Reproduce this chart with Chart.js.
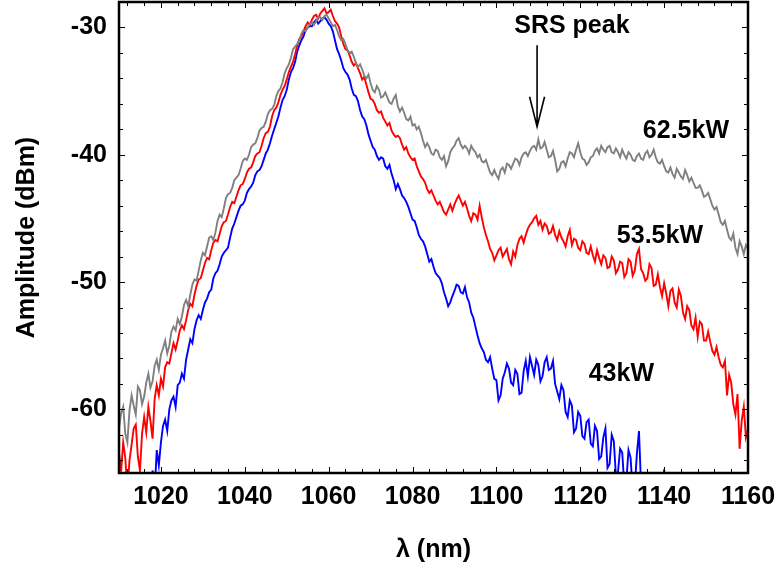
<!DOCTYPE html>
<html>
<head>
<meta charset="utf-8">
<script src="https://cdn.jsdelivr.net/npm/chart.js@4.4.1/dist/chart.umd.min.js"></script>
<style>
  html, body { margin: 0; padding: 0; background: #fff; }
  #wrap { width: 781px; height: 571px; }
</style>
</head>
<body>
<div id="wrap"><canvas id="spectrum" width="781" height="571"></canvas></div>
<script>
// wavelength grid (nm), one reading every 0.5 nm
const wavelengths = [
  1010, 1010.5, 1011, 1011.5, 1012, 1012.5, 1013, 1013.5, 1014, 1014.5,
  1015, 1015.5, 1016, 1016.5, 1017, 1017.5, 1018, 1018.5, 1019, 1019.5,
  1020, 1020.5, 1021, 1021.5, 1022, 1022.5, 1023, 1023.5, 1024, 1024.5,
  1025, 1025.5, 1026, 1026.5, 1027, 1027.5, 1028, 1028.5, 1029, 1029.5,
  1030, 1030.5, 1031, 1031.5, 1032, 1032.5, 1033, 1033.5, 1034, 1034.5,
  1035, 1035.5, 1036, 1036.5, 1037, 1037.5, 1038, 1038.5, 1039, 1039.5,
  1040, 1040.5, 1041, 1041.5, 1042, 1042.5, 1043, 1043.5, 1044, 1044.5,
  1045, 1045.5, 1046, 1046.5, 1047, 1047.5, 1048, 1048.5, 1049, 1049.5,
  1050, 1050.5, 1051, 1051.5, 1052, 1052.5, 1053, 1053.5, 1054, 1054.5,
  1055, 1055.5, 1056, 1056.5, 1057, 1057.5, 1058, 1058.5, 1059, 1059.5,
  1060, 1060.5, 1061, 1061.5, 1062, 1062.5, 1063, 1063.5, 1064, 1064.5,
  1065, 1065.5, 1066, 1066.5, 1067, 1067.5, 1068, 1068.5, 1069, 1069.5,
  1070, 1070.5, 1071, 1071.5, 1072, 1072.5, 1073, 1073.5, 1074, 1074.5,
  1075, 1075.5, 1076, 1076.5, 1077, 1077.5, 1078, 1078.5, 1079, 1079.5,
  1080, 1080.5, 1081, 1081.5, 1082, 1082.5, 1083, 1083.5, 1084, 1084.5,
  1085, 1085.5, 1086, 1086.5, 1087, 1087.5, 1088, 1088.5, 1089, 1089.5,
  1090, 1090.5, 1091, 1091.5, 1092, 1092.5, 1093, 1093.5, 1094, 1094.5,
  1095, 1095.5, 1096, 1096.5, 1097, 1097.5, 1098, 1098.5, 1099, 1099.5,
  1100, 1100.5, 1101, 1101.5, 1102, 1102.5, 1103, 1103.5, 1104, 1104.5,
  1105, 1105.5, 1106, 1106.5, 1107, 1107.5, 1108, 1108.5, 1109, 1109.5,
  1110, 1110.5, 1111, 1111.5, 1112, 1112.5, 1113, 1113.5, 1114, 1114.5,
  1115, 1115.5, 1116, 1116.5, 1117, 1117.5, 1118, 1118.5, 1119, 1119.5,
  1120, 1120.5, 1121, 1121.5, 1122, 1122.5, 1123, 1123.5, 1124, 1124.5,
  1125, 1125.5, 1126, 1126.5, 1127, 1127.5, 1128, 1128.5, 1129, 1129.5,
  1130, 1130.5, 1131, 1131.5, 1132, 1132.5, 1133, 1133.5, 1134, 1134.5,
  1135, 1135.5, 1136, 1136.5, 1137, 1137.5, 1138, 1138.5, 1139, 1139.5,
  1140, 1140.5, 1141, 1141.5, 1142, 1142.5, 1143, 1143.5, 1144, 1144.5,
  1145, 1145.5, 1146, 1146.5, 1147, 1147.5, 1148, 1148.5, 1149, 1149.5,
  1150, 1150.5, 1151, 1151.5, 1152, 1152.5, 1153, 1153.5, 1154, 1154.5,
  1155, 1155.5, 1156, 1156.5, 1157, 1157.5, 1158, 1158.5, 1159, 1159.5,
  1160
];

// amplitude (dBm) at 62.5 kW
const amp625 = [
  -61.5, -60.3, -59.8, -61.9, -62.6, -60.1, -58.9, -59.7, -60.4, -58.2,
  -58.5, -59.6, -59.0, -57.9, -57.2, -58.3, -57.8, -56.6, -56.1, -56.9,
  -55.7, -55.2, -54.6, -55.6, -55.0, -53.9, -53.5, -53.8, -52.9, -53.3,
  -52.7, -51.8, -51.4, -51.9, -51.0, -50.2, -49.8, -49.9, -49.1, -48.3,
  -47.7, -47.9, -47.2, -46.5, -46.4, -46.7, -46.1, -45.2, -44.7, -44.9,
  -44.2, -43.4, -43.1, -43.0, -42.6, -42.0, -41.8, -41.6, -41.1, -40.5,
  -40.3, -40.4, -40.0, -39.4, -39.2, -39.1, -38.7, -38.1, -37.9, -37.8,
  -37.4, -36.8, -36.5, -36.4, -36.1, -35.4, -35.0, -34.8, -34.3, -33.6,
  -33.2, -32.9, -32.4, -31.7, -31.5, -31.3, -31.0, -30.5, -30.2, -30.3,
  -30.0, -29.7, -29.6, -29.8, -29.5, -29.2, -29.2, -29.4, -29.1, -29.0,
  -29.3, -29.6, -29.9, -29.8, -30.2, -30.7, -31.0, -30.9, -31.3, -31.8,
  -32.0, -31.9, -32.3, -32.8, -33.1, -32.9, -33.3, -33.8, -34.0, -33.7,
  -34.4, -34.9, -35.1, -34.6, -34.9, -35.5, -35.4, -35.1, -35.5, -35.9,
  -36.0, -35.6, -35.3, -36.2, -36.6, -36.3, -36.7, -37.2, -37.3, -37.0,
  -37.7, -37.6, -38.0, -37.8, -38.3, -38.9, -39.4, -39.1, -39.4, -39.9,
  -40.0, -39.6, -39.7, -40.2, -40.4, -40.1, -40.9, -40.5, -39.8, -39.5,
  -39.3, -38.9, -38.7, -39.2, -39.5, -39.3, -39.5, -39.9, -39.3, -39.6,
  -39.8, -40.2, -40.0, -40.5, -40.6, -40.4, -40.9, -41.4, -41.6, -41.2,
  -41.6, -41.9, -41.2, -41.0, -41.4, -40.7, -40.8, -41.1, -40.7, -40.3,
  -40.4, -40.8, -40.2, -39.9, -39.8, -40.1, -39.7, -39.4, -39.3, -39.6,
  -38.8, -39.5, -39.4, -39.0, -39.6, -40.2, -40.1, -39.7, -40.4, -41.3,
  -41.1, -40.6, -40.5, -40.9, -40.3, -39.8, -39.9, -40.2, -39.6, -39.1,
  -39.8, -40.3, -40.4, -40.8, -40.6, -40.2, -40.1, -39.7, -39.5, -39.9,
  -39.3, -39.6, -39.8, -39.4, -39.3, -39.8, -39.9, -39.5, -39.8, -40.2,
  -39.6, -40.0, -40.3, -39.8, -40.0, -40.4, -40.5, -40.1, -39.9, -40.3,
  -40.4, -39.9, -39.7, -40.2, -40.0, -39.6, -40.2, -40.6, -40.7, -40.4,
  -40.9, -41.3, -41.4, -41.0, -41.5, -41.8, -41.1, -41.4, -41.7, -41.9,
  -41.2, -41.6, -42.1, -41.8, -42.2, -42.6, -42.6, -42.4, -42.8, -43.3,
  -43.2, -43.0, -43.5, -44.0, -44.3, -44.1, -44.7, -45.3, -45.5, -45.2,
  -45.9, -46.5, -46.7, -46.2, -47.3, -47.8, -46.8, -47.2, -47.8, -47.1,
  -47.4
];

// amplitude (dBm) at 53.5 kW
const amp535 = [
  -63.4, -64.9, -62.6, -63.8, -66.5, -64.0, -62.8, -61.5, -61.2, -63.7,
  -64.8, -61.9, -60.6, -61.8, -59.8, -60.9, -62.3, -59.2, -58.1, -58.9,
  -57.6, -58.2, -56.7, -56.3, -56.4, -55.6, -54.8, -55.3, -54.6, -53.8,
  -53.4, -53.7, -53.0, -52.2, -51.7, -51.9, -51.0, -50.3, -49.8, -49.7,
  -49.1, -48.5, -48.1, -48.2, -47.5, -46.9, -46.7, -46.8, -46.2, -45.6,
  -45.3, -45.2, -44.7, -44.1, -43.7, -43.8, -43.3, -42.8, -42.4, -42.3,
  -41.9, -41.4, -41.1, -41.0, -40.6, -40.1, -39.9, -39.8, -39.3, -38.7,
  -38.3, -38.2, -37.8, -37.0, -36.5, -36.3, -35.9, -35.3, -34.9, -34.6,
  -34.1, -33.5, -33.1, -32.7, -32.1, -31.4, -30.9, -30.7, -30.3, -29.9,
  -29.6, -29.8, -29.4, -29.1, -29.0, -29.3, -28.9, -28.7, -28.5, -28.9,
  -28.8, -28.6, -29.1, -29.5, -29.7, -30.0, -30.7, -31.3, -31.7, -31.8,
  -32.2, -32.7, -33.0, -32.8, -33.2, -33.6, -34.1, -33.9, -34.5, -35.1,
  -35.6, -35.7, -36.0, -36.5, -36.7, -36.6, -37.1, -37.4, -37.7, -37.5,
  -38.1, -38.4, -38.6, -38.5, -38.7, -39.2, -39.6, -39.4, -39.9, -40.2,
  -40.4, -40.3, -40.9, -41.3, -41.7, -41.9, -42.2, -42.7, -43.0, -42.8,
  -43.2, -43.6, -43.9, -43.7, -44.1, -44.5, -44.7, -44.3, -43.9, -44.4,
  -43.9, -43.5, -43.2, -43.6, -44.0, -43.7, -44.2, -44.8, -45.2, -44.6,
  -44.7, -45.1, -44.0, -44.9, -45.7, -46.3, -46.8, -47.4, -47.7, -48.3,
  -47.9, -47.5, -47.3, -48.0, -47.7, -47.4, -48.2, -48.6, -47.6, -48.0,
  -47.1, -46.6, -46.4, -46.9, -46.3, -45.8, -45.5, -45.3, -45.0, -44.8,
  -45.5, -45.2, -45.9, -45.4, -45.6, -46.2, -46.1, -45.6, -46.3, -46.7,
  -46.0, -46.5, -46.8, -47.2, -46.4, -45.9, -47.1, -46.6, -46.7, -47.3,
  -47.5, -46.8, -47.0, -47.7, -47.8, -47.2, -47.9, -48.4, -47.5, -48.1,
  -48.6, -47.9, -48.1, -48.9, -48.8, -48.0, -48.3, -49.3, -49.0, -48.4,
  -48.5, -49.6, -49.3, -48.2, -48.4, -49.5, -49.1, -47.8, -47.4, -49.0,
  -49.3, -49.9, -49.7, -48.6, -48.9, -50.3, -50.2, -49.4, -50.4, -51.1,
  -50.1, -50.9, -51.9, -50.7, -50.5, -51.6, -52.0, -50.6, -51.1, -52.4,
  -52.9, -51.9, -52.2, -53.4, -53.7, -52.8, -54.3, -53.1, -53.3, -54.6,
  -54.6, -53.9, -54.7, -55.4, -55.7, -55.1, -55.9, -56.5, -56.7, -56.2,
  -58.9, -57.3, -57.9, -59.6, -60.4, -58.8, -63.1, -60.9, -59.8, -62.2,
  -61.6
];

// amplitude (dBm) at 43 kW; readings under -65 fall off the plot
const amp43 = [
  -68.0, -68.0, -68.0, -68.0, -68.0, -68.0, -68.0, -68.0, -68.0, -68.0,
  -68.0, -68.0, -68.0, -68.0, -68.0, -68.0, -64.8, -66.5, -63.2, -64.4,
  -62.6, -61.3, -60.8, -61.7, -60.0, -59.3, -59.0, -59.8, -58.1, -57.9,
  -57.2, -57.6, -56.1, -55.3, -54.5, -54.8, -53.7, -53.0, -52.6, -52.9,
  -52.2, -51.6, -51.3, -50.8, -50.6, -49.7, -49.3, -49.1, -48.6, -48.0,
  -47.7, -47.5, -47.3, -46.5, -45.8, -45.4, -44.9, -44.4, -44.0, -43.9,
  -43.6, -43.0, -42.7, -42.5, -42.2, -41.6, -41.3, -41.2, -40.9, -40.4,
  -39.9, -39.6, -39.1, -38.5, -38.0, -37.5, -37.0, -36.3, -35.7, -35.4,
  -34.9, -34.1, -33.5, -33.2, -32.7, -31.9, -31.4, -31.0, -30.7, -30.2,
  -30.0, -29.9, -29.9, -29.6, -29.4, -29.7, -29.5, -29.3, -29.2, -29.4,
  -29.7, -29.9, -30.3, -31.0, -31.7, -32.1, -32.6, -33.2, -33.5, -33.7,
  -34.1, -34.8, -35.3, -35.4, -35.8, -36.5, -37.0, -37.2, -37.7, -38.4,
  -38.9, -39.4, -39.6, -40.1, -40.4, -40.2, -40.3, -40.9, -41.1, -40.8,
  -41.5, -42.0, -42.7, -42.3, -42.7, -43.2, -43.4, -43.7, -44.1, -44.6,
  -45.1, -45.2, -45.7, -46.3, -46.6, -46.8, -47.2, -47.8, -48.4, -48.2,
  -48.8, -49.3, -49.5, -49.7, -50.1, -50.8, -51.3, -51.9, -51.6, -51.1,
  -50.7, -50.2, -50.3, -50.8, -50.9, -50.4, -51.2, -51.6, -52.4, -52.8,
  -53.5, -54.2, -54.8, -55.2, -55.5, -56.1, -56.3, -55.9, -56.8, -57.6,
  -57.7, -59.3, -58.9, -57.6, -57.1, -56.4, -56.8, -57.9, -58.1, -56.9,
  -57.2, -58.8, -58.7, -57.0, -56.2, -57.4, -55.9, -56.6, -57.3, -56.1,
  -56.5, -57.8, -57.4, -56.3, -55.9, -56.9, -56.8, -56.2, -58.0, -58.6,
  -59.2, -58.1, -58.5, -60.2, -60.6, -59.3, -59.7, -61.8, -61.5, -60.2,
  -60.5, -62.1, -62.3, -61.0, -60.8, -62.7, -62.9, -61.3, -61.7, -63.9,
  -63.7, -62.2, -61.5, -64.6, -64.3, -62.0, -62.5, -65.2, -64.9, -63.1,
  -63.4, -65.9, -65.6, -63.2, -63.8, -66.4, -66.1, -63.5, -61.7, -66.0,
  -66.2, -68.0, -68.0, -68.0, -68.0, -68.0, -68.0, -68.0, -68.0, -68.0,
  -64.7, -68.0, -68.0, -68.0, -68.0, -68.0, -68.0, -68.0, -68.0, -68.0,
  -68.0, -68.0, -68.0, -68.0, -68.0, -68.0, -68.0, -68.0, -68.0, -68.0,
  -68.0, -68.0, -68.0, -68.0, -68.0, -68.0, -68.0, -68.0, -68.0, -68.0,
  -68.0, -68.0, -68.0, -68.0, -68.0, -68.0, -68.0, -68.0, -68.0, -68.0,
  -68.0
];

const seriesLabels = ["62.5kW", "53.5kW", "43kW"];
const seriesColors = ["#808080", "#ff0000", "#0000ff"];
const xTickValues = [1020, 1040, 1060, 1080, 1100, 1120, 1140, 1160];
const yTickValues = [-60, -50, -40, -30];

const boldFont = "'Liberation Sans', Arial, sans-serif";

function toPoints(values) {
  return wavelengths.map((w, i) => ({ x: w, y: values[i] }));
}

// the layout must not push the plot box in for overhanging labels
function pinBox(size, key) {
  return s => {
    s[key] = size;
    s.paddingTop = 0; s.paddingBottom = 0; s.paddingLeft = 0; s.paddingRight = 0;
  };
}

// frame with inward ticks on all four sides
const frameTicks = {
  id: "frameTicks",
  afterDatasetsDraw(chart) {
    const { ctx, chartArea: a, scales: { x, y } } = chart;
    ctx.save();
    ctx.strokeStyle = "#000";
    ctx.lineWidth = 1;
    ctx.beginPath();
    for (let v = 1012; v < 1160; v += 4) {
      const px = Math.round(x.getPixelForValue(v)) + 0.5;
      const len = v % 20 === 0 ? 6 : 4;
      ctx.moveTo(px, a.bottom); ctx.lineTo(px, a.bottom - len);
      ctx.moveTo(px, a.top); ctx.lineTo(px, a.top + len);
    }
    for (let v = -64; v < -28; v += 2) {
      const py = Math.round(y.getPixelForValue(v)) + 0.5;
      const len = v % 10 === 0 ? 6 : 4;
      ctx.moveTo(a.left, py); ctx.lineTo(a.left + len, py);
      ctx.moveTo(a.right, py); ctx.lineTo(a.right - len, py);
    }
    ctx.stroke();
    ctx.lineWidth = 2.5;
    ctx.strokeRect(a.left, a.top, a.right - a.left, a.bottom - a.top);
    ctx.restore();
  }
};

// curve labels and the SRS arrow, anchored in data coordinates
const notes = {
  id: "notes",
  afterDraw(chart) {
    const { ctx, scales: { x, y } } = chart;
    ctx.save();
    ctx.fillStyle = "#000";
    ctx.strokeStyle = "#000";
    ctx.font = "bold 25px " + boldFont;
    ctx.textAlign = "center";
    ctx.textBaseline = "alphabetic";
    ctx.fillText("SRS peak", x.getPixelForValue(1118), y.getPixelForValue(-30.4));
    ctx.fillText(seriesLabels[0], x.getPixelForValue(1145.2), y.getPixelForValue(-38.7));
    ctx.fillText(seriesLabels[1], x.getPixelForValue(1139), y.getPixelForValue(-46.9));
    ctx.fillText(seriesLabels[2], x.getPixelForValue(1129.8), y.getPixelForValue(-57.8));

    const ax = x.getPixelForValue(1109.7);
    const top = y.getPixelForValue(-31.4);
    const tip = y.getPixelForValue(-37.8);
    ctx.lineWidth = 1.6;
    ctx.beginPath();
    ctx.moveTo(ax, top); ctx.lineTo(ax, tip);
    ctx.moveTo(ax - 7.5, tip - 30); ctx.lineTo(ax, tip); ctx.lineTo(ax + 7.5, tip - 30);
    ctx.stroke();
    ctx.restore();
  }
};

const tickFont = { family: boldFont, weight: "bold", size: 25 };
const titleFont = { family: boldFont, weight: "bold", size: 25 };

new Chart(document.getElementById("spectrum"), {
  type: "line",
  data: {
    datasets: [amp625, amp535, amp43].map((values, i) => ({
      label: seriesLabels[i],
      data: toPoints(values),
      borderColor: seriesColors[i],
      borderWidth: 1.9,
      pointRadius: 0,
      tension: 0,
      fill: false
    }))
  },
  options: {
    responsive: false,
    animation: false,
    layout: { padding: { top: 2, right: 33, left: 0, bottom: 0 } },
    plugins: { legend: { display: false }, tooltip: { enabled: false } },
    scales: {
      x: {
        type: "linear",
        min: 1010,
        max: 1160,
        afterBuildTicks: s => { s.ticks = xTickValues.map(v => ({ value: v })); },
        afterFit: pinBox(98, "height"),
        grid: { display: false, drawTicks: false },
        border: { display: false },
        ticks: { color: "#000", font: tickFont, padding: 9, maxRotation: 0, autoSkip: false, callback: v => String(v) },
        title: { display: true, text: "λ (nm)", color: "#000", font: titleFont, padding: { top: 0, bottom: 6 } }
      },
      y: {
        type: "linear",
        min: -65,
        max: -28,
        afterBuildTicks: s => { s.ticks = yTickValues.map(v => ({ value: v })); },
        afterFit: pinBox(119, "width"),
        grid: { display: false, drawTicks: false },
        border: { display: false },
        ticks: { color: "#000", font: tickFont, padding: 12, callback: v => String(v) },
        title: { display: true, text: "Amplitude (dBm)", color: "#000", font: titleFont, padding: { top: 12, bottom: 0 } }
      }
    }
  },
  plugins: [frameTicks, notes]
});
</script>
</body>
</html>
